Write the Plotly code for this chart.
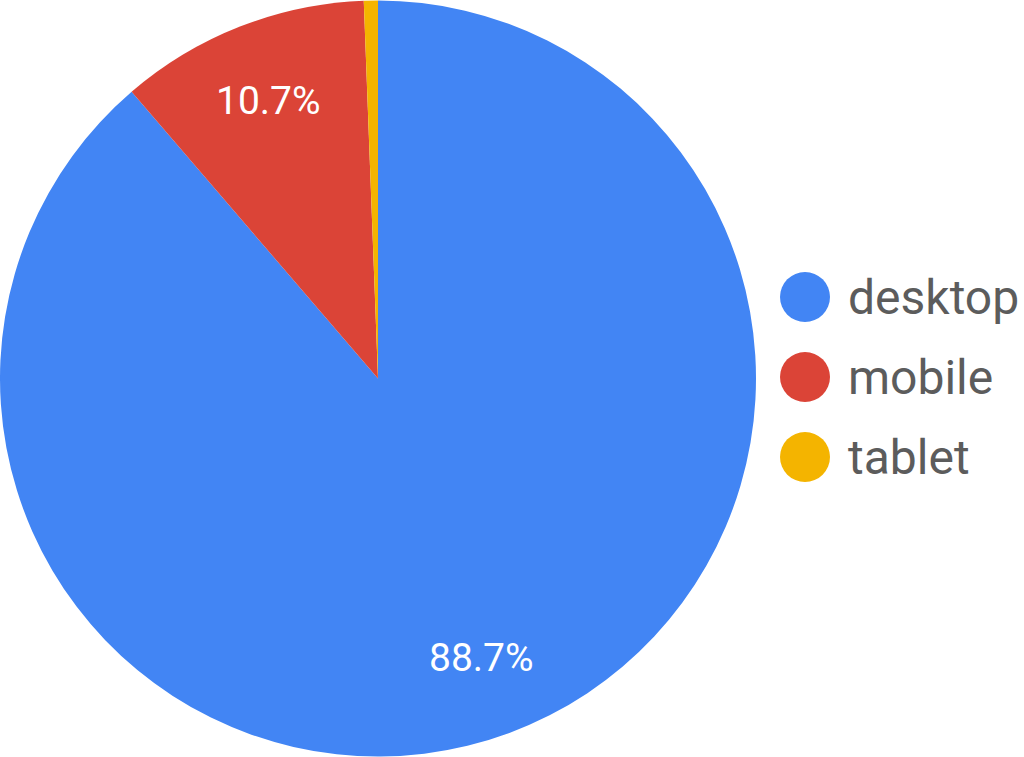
import math
import plotly.graph_objects as go

labels = ["desktop", "mobile", "tablet"]
values = [88.7, 10.7, 0.6]
colors = ["#4285F4", "#DB4437", "#F4B400"]
show_label = [True, True, False]

W, H = 1024, 757
PIE_W = 756          # pie domain width in px
LABEL_R = 0.79       # label distance as a fraction of the radius

fig = go.Figure(
    go.Pie(
        labels=labels,
        values=values,
        sort=False,
        direction="clockwise",
        rotation=0,
        marker=dict(colors=colors, line=dict(width=0)),
        textinfo="none",
        domain=dict(x=[0, PIE_W / W], y=[0, 1]),
        showlegend=False,
        hoverinfo="label+percent",
    )
)

# percentage labels, placed at the middle angle of each slice
cx, cy = PIE_W / 2, H / 2
radius = min(PIE_W, H) / 2
total = sum(values)
annotations = []
start = 0.0
for val, show in zip(values, show_label):
    share = val / total
    mid = (start + share / 2) * 2 * math.pi
    start += share
    if not show:
        continue
    px = cx + LABEL_R * radius * math.sin(mid)
    py = cy - LABEL_R * radius * math.cos(mid)
    annotations.append(dict(
        xref="paper", yref="paper", x=px / W, y=1 - py / H,
        xanchor="center", yanchor="middle", showarrow=False,
        text=f"{share * 100:.1f}%",
        font=dict(family="Roboto", size=39, color="white"),
    ))

# hand-made legend with round markers
shapes = []
for i, (lab, col) in enumerate(zip(labels, colors)):
    ly = 297 + i * 80
    shapes.append(dict(
        type="circle", xref="paper", yref="paper",
        x0=780 / W, x1=830 / W,
        y0=1 - (ly + 25) / H, y1=1 - (ly - 25) / H,
        fillcolor=col, line=dict(width=0),
    ))
    annotations.append(dict(
        xref="paper", yref="paper", x=846 / W, y=1 - ly / H,
        xanchor="left", yanchor="middle", showarrow=False,
        text=lab, font=dict(family="Roboto", size=48, color="#5c5c5c"),
    ))

fig.update_layout(
    width=W,
    height=H,
    margin=dict(l=0, r=0, t=0, b=0),
    paper_bgcolor="white",
    plot_bgcolor="white",
    shapes=shapes,
    annotations=annotations,
)

fig.write_html(
    "out.html",
    config={"displayModeBar": False},
    post_script="document.body.style.margin='0';",
)
